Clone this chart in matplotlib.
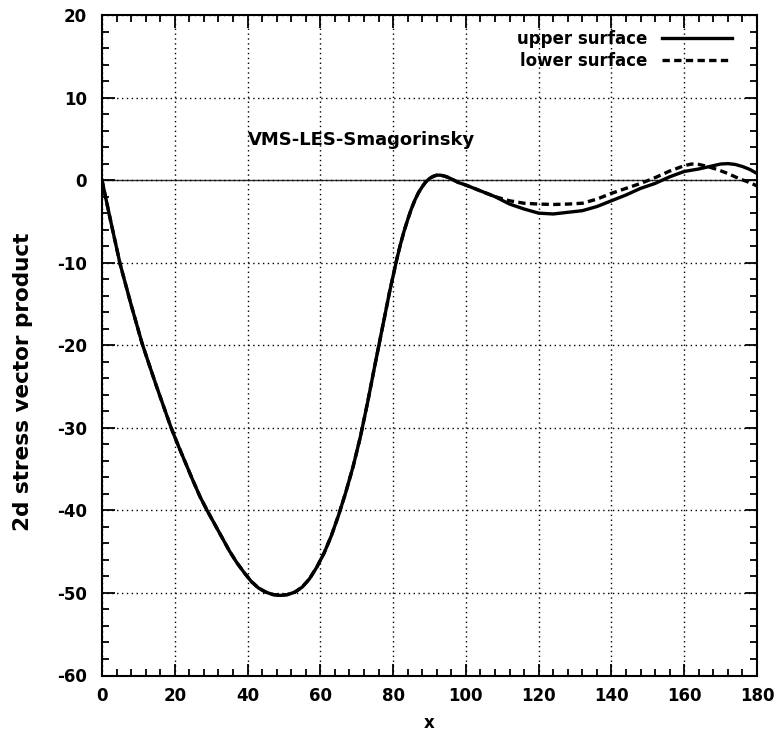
import matplotlib
matplotlib.use("Agg")
import matplotlib.pyplot as plt
from matplotlib.ticker import MultipleLocator

# ---- data ----
# part where both surfaces coincide
x_common = [0, 1, 2.5, 5, 8, 11, 13, 15, 17, 19, 21, 23, 25, 27, 29, 31, 33, 35, 37,
            39, 41, 43, 45, 47, 49, 51, 53, 55, 57, 59, 61, 63, 65, 67, 69, 71, 73,
            75, 77, 79, 81, 82, 83, 84, 85, 86, 87, 88, 89, 90, 91, 92, 93, 94, 95,
            96, 98, 100]
y_common = [0, -2.1, -5.2, -10.2, -15.1, -19.75, -22.4, -25.0, -27.5, -30, -32.2,
            -34.3, -36.4, -38.4, -40.1, -41.7, -43.3, -44.9, -46.3, -47.5, -48.6,
            -49.4, -49.9, -50.2, -50.3, -50.2, -49.9, -49.3, -48.3, -46.9, -45.2,
            -43.1, -40.6, -37.8, -34.7, -31.1, -26.9, -22.4, -18.0, -13.6, -9.6,
            -7.8, -6.2, -4.8, -3.5, -2.4, -1.5, -0.8, -0.2, 0.2, 0.45, 0.6, 0.6,
            0.5, 0.35, 0.15, -0.3, -0.6]

# upper surface after x = 100
x_upper_tail = [104, 108, 112, 116, 120, 124, 128, 132, 136, 140, 144, 148, 152, 156,
                160, 164, 168, 170, 172, 174, 176, 178, 180]
y_upper_tail = [-1.3, -2.0, -2.9, -3.5, -4.0, -4.1, -3.9, -3.7, -3.2, -2.5, -1.8,
                -1.0, -0.4, 0.4, 1.05, 1.35, 1.75, 1.95, 2.0, 1.9, 1.65, 1.3, 0.8]

# lower surface after x = 100
x_lower_tail = [104, 108, 112, 116, 120, 124, 128, 132, 136, 140, 144, 148, 152, 156,
                160, 162, 164, 166, 169, 172, 175, 178, 180]
y_lower_tail = [-1.3, -2.0, -2.5, -2.8, -2.9, -2.95, -2.9, -2.8, -2.3, -1.6, -1.0,
                -0.4, 0.3, 1.1, 1.75, 1.95, 1.9, 1.7, 1.3, 0.8, 0.2, -0.3, -0.7]

x_ticks = [0, 20, 40, 60, 80, 100, 120, 140, 160, 180]
y_ticks = [20, 10, 0, -10, -20, -30, -40, -50, -60]
label_upper = "upper surface"
label_lower = "lower surface"
annotation = "VMS-LES-Smagorinsky"
xlabel = "x"
ylabel = "2d stress vector product"

x_upper = x_common + x_upper_tail
y_upper = y_common + y_upper_tail
x_lower = x_common + x_lower_tail
y_lower = y_common + y_lower_tail

# ---- figure ----
plt.rcParams['font.family'] = ['DejaVu Sans']
plt.rcParams['axes.unicode_minus'] = False
W, H = 783, 733
fig = plt.figure(figsize=(W / 100, H / 100), dpi=100)
ax = fig.add_axes([102 / W, 1 - 675.5 / H, (757 - 102) / W, (675.5 - 15) / H])

ax.plot(x_upper, y_upper, color='black', lw=2.4, label=label_upper,
        solid_joinstyle='round')
ax.plot(x_lower, y_lower, color='black', lw=2.4, ls=(0, (2.2, 1.3)),
        label=label_lower)
ax.axhline(0, color='#333333', lw=1.0, zorder=1)

ax.set_xlim(0, 180)
ax.set_ylim(-60, 20)
ax.set_xticks(x_ticks)
ax.set_yticks(y_ticks)
ax.xaxis.set_minor_locator(MultipleLocator(4))
ax.yaxis.set_minor_locator(MultipleLocator(2))
ax.tick_params(which='both', direction='in', top=True, right=True, width=1.3,
               labelsize=12)
ax.tick_params(axis='y', pad=11)
ax.tick_params(axis='x', pad=8)
ax.tick_params(which='major', length=9)
ax.tick_params(which='minor', length=5)
for lab in ax.get_xticklabels() + ax.get_yticklabels():
    lab.set_fontweight('bold')
for s in ax.spines.values():
    s.set_linewidth(1.5)

ax.grid(True, which='major', color='black', ls=(0, (1, 2.5)), lw=1.0)

ax.text(40, 4.85, annotation, fontsize=13, fontweight='bold', va='center',
        ha='left')

leg = ax.legend(loc='upper right', bbox_to_anchor=(0.977, 0.992), frameon=False,
                markerfirst=False, fontsize=12, handlelength=4.2,
                handletextpad=0.9, labelspacing=0.2, borderaxespad=0.2)
for t in leg.get_texts():
    t.set_fontweight('bold')

fig.text(23 / W, 1 - 382 / H, ylabel, rotation=90, fontsize=15.5, fontweight='bold',
         ha='center', va='center')
fig.text(429 / W, 1 - 732 / H, xlabel, fontsize=12, fontweight='bold',
         ha='center', va='bottom')

fig.savefig("out.png", dpi=100)
